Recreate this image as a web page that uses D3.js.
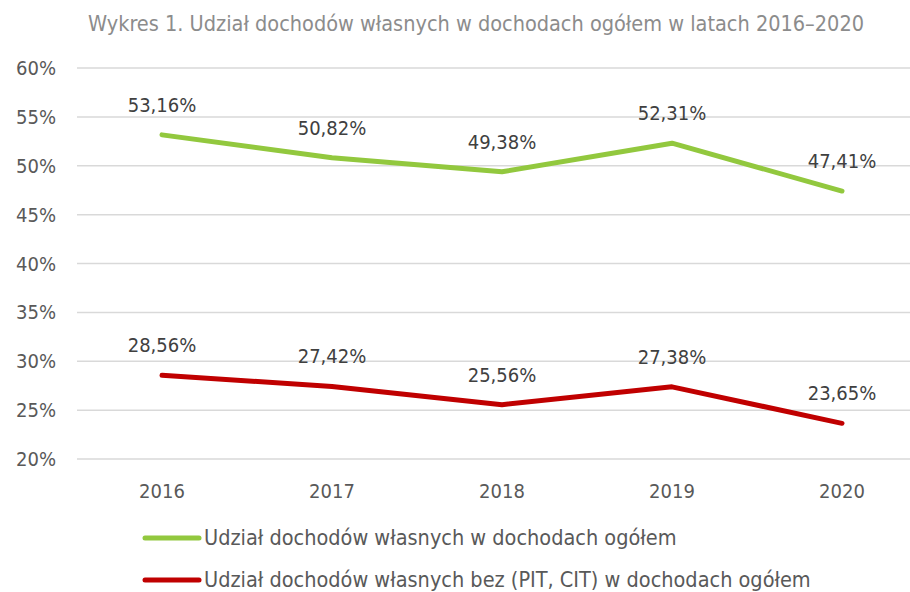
<!DOCTYPE html>
<html>
<head>
<meta charset="utf-8">
<script src="https://d3js.org/d3.v7.min.js"></script>
<style>
  body { margin: 0; background: #fff; }
  text { font-family: "DejaVu Sans Condensed", "DejaVu Sans", sans-serif; font-stretch: condensed; }
</style>
</head>
<body>
<svg id="chart" width="910" height="592"></svg>
<script>
var years = ["2016", "2017", "2018", "2019", "2020"];
var ownIncome = [53.16, 50.82, 49.38, 52.31, 47.41];
var ownIncomeNoTax = [28.56, 27.42, 25.56, 27.38, 23.65];
var yTicks = [20, 25, 30, 35, 40, 45, 50, 55, 60];
var seriesNames = ["Udział dochodów własnych w dochodach ogółem",
  "Udział dochodów własnych bez (PIT, CIT) w dochodach ogółem"];
var seriesColors = ["#92c83e", "#c00000"];

var svg = d3.select("#chart");
var plotLeft = 77, plotRight = 927, plotTop = 68, plotBottom = 459;

var x = d3.scaleBand().domain(years).range([plotLeft, plotRight]);
var y = d3.scaleLinear().domain([20, 60]).range([plotBottom, plotTop]);

svg.append("text").attr("x", 476).attr("y", 31).attr("text-anchor", "middle")
  .attr("font-size", 21.5).attr("fill", "#8c8c8c")
  .text("Wykres 1. Udział dochodów własnych w dochodach ogółem w latach 2016–2020");

// grid
svg.append("g").selectAll("line").data(yTicks).enter().append("line")
  .attr("x1", plotLeft).attr("x2", plotRight)
  .attr("y1", function(d){ return y(d); }).attr("y2", function(d){ return y(d); })
  .attr("stroke", "#d9d9d9").attr("stroke-width", 1.5);

svg.append("g").selectAll("text").data(yTicks).enter().append("text")
  .attr("x", 56).attr("y", function(d){ return y(d) + 7; })
  .attr("text-anchor", "end").attr("font-size", 20).attr("fill", "#595959")
  .text(function(d){ return d + "%"; });

svg.append("g").selectAll("text").data(years).enter().append("text")
  .attr("x", function(d){ return x(d) + x.bandwidth()/2; }).attr("y", 498)
  .attr("text-anchor", "middle").attr("font-size", 20).attr("fill", "#595959")
  .text(function(d){ return d; });

var line = d3.line()
  .x(function(d, i){ return x(years[i]) + x.bandwidth()/2; })
  .y(function(d){ return y(d); });

[ownIncome, ownIncomeNoTax].forEach(function(vals, k) {
  svg.append("path").datum(vals).attr("d", line)
    .attr("fill", "none").attr("stroke", seriesColors[k]).attr("stroke-width", 5)
    .attr("stroke-linecap", "round").attr("stroke-linejoin", "round");
  svg.append("g").selectAll("text").data(vals).enter().append("text")
    .attr("x", function(d, i){ return x(years[i]) + x.bandwidth()/2; })
    .attr("y", function(d){ return y(d) - 23; })
    .attr("text-anchor", "middle").attr("font-size", 20).attr("fill", "#404040")
    .text(function(d){ return d.toFixed(2).replace(".", ",") + "%"; });
});

// legend
seriesNames.forEach(function(name, k) {
  var ly = 538 + k * 42;
  svg.append("line").attr("x1", 145).attr("x2", 199).attr("y1", ly).attr("y2", ly)
    .attr("stroke", seriesColors[k]).attr("stroke-width", 5).attr("stroke-linecap", "round");
  svg.append("text").attr("x", 204).attr("y", ly + 7).attr("font-size", 21.5)
    .attr("fill", "#595959").text(name);
});
</script>
</body>
</html>
